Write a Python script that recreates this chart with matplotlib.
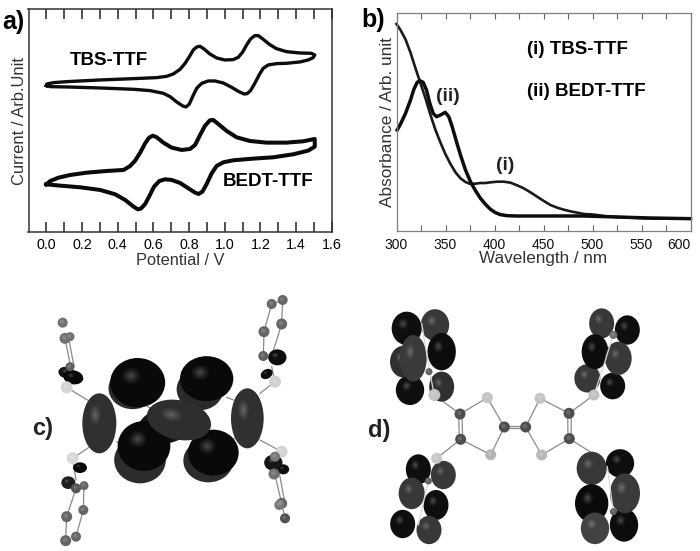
"""CV, UV-vis and orbital panels"""
import matplotlib
matplotlib.use("Agg")
import matplotlib.pyplot as plt
from matplotlib.patches import Ellipse

plt.rcParams["font.family"] = ["Liberation Sans", "DejaVu Sans"]

# a) cyclic voltammograms, current in arbitrary units
tbs_v = [0.0, 0.004, 0.041, 0.116, 0.302, 0.489, 0.619, 0.675, 0.712, 0.75, 0.778, 0.802, 0.824, 0.843, 0.862, 0.884, 0.917, 0.955, 1.001, 1.048,
         1.076, 1.1, 1.123, 1.145, 1.169, 1.188, 1.216, 1.253, 1.29, 1.346, 1.421, 1.486, 1.505, 1.496, 1.468, 1.421, 1.346, 1.29, 1.244, 1.216,
         1.193, 1.169, 1.145, 1.126, 1.108, 1.076, 1.039, 0.992, 0.945, 0.908, 0.871, 0.843, 0.82, 0.802, 0.783, 0.765, 0.731, 0.694, 0.656, 0.582,
         0.489, 0.302, 0.116, 0.022, 0.0]
tbs_i = [440, 445, 449, 452, 457, 461, 464, 468, 475, 489, 507, 527, 547, 556, 558, 550, 535, 523, 517, 518,
         525, 540, 562, 580, 590, 590, 579, 563, 551, 542, 538, 537, 532, 524, 517, 511, 507, 506, 502, 492,
         472, 447, 425, 416, 415, 423, 435, 448, 454, 454, 447, 432, 407, 385, 376, 379, 391, 407, 417, 425,
         429, 433, 436, 437, 440]
bedt_v = [0.0, 0.022, 0.069, 0.134, 0.228, 0.339, 0.433, 0.47, 0.498, 0.526, 0.554, 0.576, 0.597, 0.619, 0.656, 0.703, 0.759, 0.806, 0.834, 0.862,
          0.889, 0.917, 0.936, 0.964, 1.011, 1.067, 1.141, 1.235, 1.346, 1.44, 1.505, 1.505, 1.468, 1.384, 1.272, 1.16, 1.048, 0.992, 0.955, 0.927,
          0.899, 0.875, 0.854, 0.834, 0.796, 0.75, 0.703, 0.666, 0.634, 0.604, 0.578, 0.554, 0.53, 0.513, 0.489, 0.442, 0.386, 0.302, 0.19, 0.078, 0.0]
bedt_i = [144, 154, 164, 172, 179, 184, 187, 199, 215, 239, 267, 284, 290, 285, 269, 254, 247, 250, 262, 292,
          319, 336, 337, 325, 304, 285, 274, 269, 269, 273, 280, 257, 245, 234, 225, 221, 216, 210, 199, 177,
          145, 122, 115, 119, 132, 148, 157, 159, 154, 137, 109, 85, 71, 69, 77, 97, 114, 127, 135, 140, 144]

# b) absorption spectra, absorbance in arbitrary units
tbs_wl = [300, 304.1, 309.2, 314.3, 319.4, 324.5, 329.6, 334.7, 339.8, 344.9, 350, 355.1, 360.2, 365.3, 370.4, 375.5, 380.6, 385.7, 390.8, 395.9,
          402.7, 409.5, 416.3, 423.1, 429.9, 436.7, 443.5, 450.3, 457.1, 463.9, 470.7, 477.6, 484.4, 491.2, 498, 504.8, 511.6, 525.2, 545.6, 566, 600]
tbs_abs = [621, 603, 575, 535, 488, 443, 398, 348, 303, 265, 230, 201, 176, 158, 147, 141, 142, 144, 144, 146,
           148, 148, 145, 137, 128, 116, 103, 90, 78, 70, 64, 59, 55, 51, 50, 48, 45, 42, 39, 37, 37]
bedt_wl = [300.7, 304.1, 309.2, 314.3, 317.7, 321.1, 323.8, 327.2, 330.6, 334, 337.4, 340.8, 344.9, 349.7, 353.4, 356.8, 361.2, 365.3, 370.4, 375.5,
           380.6, 385.7, 390.8, 395.9, 401, 406.1, 412.9, 423.1, 443.5, 470.7, 491.2, 525.2, 559.2, 600]
bedt_abs = [303, 321, 353, 393, 425, 446, 451, 446, 423, 383, 353, 343, 348, 356, 343, 313, 268, 228, 183, 148,
            121, 98, 80, 65, 55, 49, 46, 45, 45, 45, 45, 42, 39, 37]

xticks_a = [0.0, 0.2, 0.4, 0.6, 0.8, 1.0, 1.2, 1.4, 1.6]
xminor_a = [0.1, 0.3, 0.5, 0.7, 0.9, 1.1, 1.3, 1.5]
xticks_b = [300, 350, 400, 450, 500, 550, 600]
xminor_b = [325, 375, 425, 475, 525, 575]

# orbital lobes: x, y, width, height, angle, grey
c_lobes = [
    (505, 432, 195, 112, -18, "#141414"), (398, 325, 145, 125, 0, "#2c2c2c"), (413, 308, 165, 148, 0, "#090909"),
    (600, 328, 140, 125, 0, "#2a2a2a"), (620, 296, 160, 135, 0, "#090909"), (420, 540, 155, 140, 0, "#2c2c2c"),
    (432, 498, 158, 150, 0, "#090909"), (625, 542, 150, 130, 0, "#2c2c2c"), (640, 518, 152, 138, 0, "#090909"),
    (537, 420, 195, 118, 12, "#2e2e2e"), (298, 430, 102, 180, 0, "#303030"), (742, 415, 98, 180, 0, "#303030"),
    (200, 278, 50, 35, 10, "#151515"), (220, 292, 60, 42, 10, "#090909"), (240, 563, 42, 32, 0, "#090909"),
    (205, 608, 42, 38, 0, "#1e1e1e"), (832, 232, 55, 48, 0, "#0e0e0e"), (800, 282, 38, 28, -30, "#0e0e0e"),
    (820, 548, 55, 48, 0, "#161616"), (850, 568, 35, 30, 0, "#0e0e0e"),
]
d_lobes = [
    (170, 145, 90, 100, 0, "#0e0e0e"), (255, 135, 85, 95, 0, "#383838"), (275, 215, 85, 112, 0, "#0c0c0c"),
    (180, 330, 85, 90, 0, "#0e0e0e"), (275, 320, 75, 90, 0, "#303030"), (160, 245, 80, 95, 0, "#303030"), (190, 235, 80, 140, 0, "#3a3a3a"),
    (755, 130, 75, 90, 0, "#383838"), (832, 150, 75, 88, 0, "#0e0e0e"), (712, 295, 78, 85, 0, "#383838"), (788, 318, 75, 80, 0, "#0e0e0e"),
    (735, 215, 80, 105, 0, "#0c0c0c"), (805, 235, 80, 100, 0, "#383838"),
    (205, 568, 75, 90, 0, "#0e0e0e"), (280, 585, 75, 85, 0, "#383838"), (258, 675, 75, 90, 0, "#0e0e0e"), (158, 732, 75, 85, 0, "#0e0e0e"),
    (185, 640, 78, 95, 0, "#383838"), (237, 750, 75, 85, 0, "#383838"),
    (810, 550, 85, 85, 0, "#0e0e0e"), (725, 565, 90, 100, 0, "#383838"), (822, 735, 85, 100, 0, "#0c0c0c"), (725, 670, 100, 115, 0, "#0a0a0a"),
    (825, 640, 90, 120, 0, "#3a3a3a"), (735, 745, 85, 95, 0, "#424242"),
]

# atoms: x, y, size, grey
c_atoms = [
    (188, 128, 20, "#707070"), (195, 175, 22, "#707070"), (210, 170, 18, "#707070"), (210, 260, 18, "#606060"), (200, 322, 24, "#d4d4d4"),
    (218, 535, 24, "#d8d8d8"), (228, 625, 20, "#555555"), (252, 617, 18, "#666666"), (250, 690, 20, "#666666"), (200, 710, 22, "#666666"),
    (197, 782, 22, "#666666"), (228, 770, 20, "#666666"), (815, 72, 20, "#666666"), (848, 60, 20, "#666666"), (845, 132, 22, "#666666"),
    (792, 155, 22, "#666666"), (790, 228, 20, "#606060"), (825, 305, 24, "#d0d0d0"), (845, 515, 24, "#d4d4d4"), (825, 530, 20, "#777777"),
    (822, 582, 22, "#707070"), (845, 670, 22, "#666666"), (838, 675, 20, "#777777"), (855, 715, 20, "#505050"),
]
d_atoms = [
    (253, 345, 24, "#c4c4c4"), (412, 353, 22, "#c4c4c4"), (422, 524, 22, "#b4b4b4"), (260, 535, 22, "#c8c8c8"), (570, 355, 22, "#c4c4c4"),
    (732, 345, 22, "#c0c0c0"), (575, 525, 22, "#b8b8b8"), (330, 402, 22, "#4e4e4e"), (332, 478, 22, "#4e4e4e"), (463, 441, 22, "#4e4e4e"),
    (527, 441, 22, "#4e4e4e"), (657, 400, 22, "#4e4e4e"), (658, 476, 22, "#4e4e4e"), (237, 275, 14, "#606060"), (235, 603, 14, "#606060"),
    (790, 165, 16, "#707070"), (790, 695, 14, "#606060"),
]

# bonds: x0, y0, x1, y1
c_bonds = [
    (200, 322, 262, 360), (218, 535, 270, 500), (825, 305, 780, 340), (845, 515, 780, 480), (345, 365, 362, 355), (350, 485, 362, 492),
    (680, 352, 700, 360), (700, 478, 715, 470), (440, 378, 452, 385), (590, 372, 600, 366), (590, 462, 600, 468),
    (195, 175, 212, 260), (205, 170, 222, 258), (212, 300, 205, 322), (228, 625, 200, 710), (252, 617, 250, 690), (200, 710, 197, 782),
    (250, 690, 228, 770), (815, 72, 792, 155), (848, 60, 845, 132), (792, 155, 790, 228), (845, 132, 820, 212), (815, 72, 848, 60),
    (825, 305, 815, 260), (822, 530, 822, 582), (825, 585, 845, 670), (838, 580, 855, 670), (845, 670, 855, 715), (218, 535, 228, 600),
]
d_bonds = [
    (253, 345, 330, 402), (330, 402, 412, 353), (412, 353, 463, 441), (463, 441, 422, 524), (422, 524, 332, 478), (332, 478, 260, 535),
    (326, 402, 328, 478), (336, 402, 338, 478), (463, 437, 527, 437), (463, 445, 527, 445), (527, 441, 570, 355), (570, 355, 657, 400),
    (657, 400, 732, 345), (653, 400, 654, 476), (663, 400, 664, 476), (658, 476, 575, 525), (575, 525, 527, 441), (658, 476, 720, 515),
]
d_white = [
    (215, 130, 240, 280), (240, 280, 253, 345), (790, 165, 760, 260), (760, 260, 732, 345), (235, 603, 205, 735), (772, 560, 790, 695),
]

fig = plt.figure(figsize=(7.0, 5.51), dpi=100)


def px_axes(x0, y0, x1, y1):
    # axes placed by pixel box, y measured from the top
    return fig.add_axes([x0 / 700, 1 - y1 / 551, (x1 - x0) / 700, (y1 - y0) / 551])


def draw_orbitals(ax, lobes, atoms, bonds):
    ax.set_xlim(0, 1050)
    ax.set_ylim(813, 0)
    ax.axis("off")
    for x0, y0, x1, y1 in bonds:
        ax.plot([x0, x1], [y0, y1], color="#8a8a8a", lw=0.9, zorder=1)
    for i, (x, y, w, h, ang, col) in enumerate(lobes):
        z = 2 + i * 0.01
        ax.add_patch(Ellipse((x, y), w, h, angle=ang, fc=col, ec="none", zorder=z))
        # soft highlight on each lobe
        for f in [0.32, 0.24, 0.17, 0.11, 0.06]:
            ax.add_patch(Ellipse((x - w * 0.12, y - h * 0.14), w * f, h * f, angle=ang, fc="white", ec="none",
                                 alpha=0.055, zorder=z + 0.001))
    for x, y, s, col in atoms:
        ax.add_patch(Ellipse((x, y), s * 1.5, s * 1.5, fc=col, ec="none", zorder=4))
        ax.add_patch(Ellipse((x - s * 0.1, y - s * 0.12), s * 0.6, s * 0.6, fc="white", ec="none", alpha=0.15, zorder=4.1))


# panel a
ax_a = px_axes(28.5, 9.3, 331.7, 232.3)
ax_a.plot(tbs_v, tbs_i, color="#0d0d0d", lw=2.4, solid_joinstyle="round")
ax_a.plot(bedt_v, bedt_i, color="#0a0a0a", lw=2.9, solid_joinstyle="round")
ax_a.set_xlim(-0.1, 1.6)
ax_a.set_ylim(0, 669)
ax_a.set_xticks(xticks_a)
ax_a.set_xticks(xminor_a, minor=True)
ax_a.set_yticks([])
ax_a.tick_params(axis="x", which="both", direction="in", length=7.5, width=1.1, top=True, color="#222222", labelsize=10.3, pad=4)
ax_a.set_xlabel("Potential / V", fontsize=11.8, labelpad=1, color="#333333")
ax_a.set_ylabel("Current / Arb.Unit", fontsize=11.9, labelpad=1, color="#333333")
for sp in ax_a.spines.values():
    sp.set_linewidth(1.1)
    sp.set_color("#333333")
ax_a.text(0.136, 0.772, "TBS-TTF", transform=ax_a.transAxes, fontsize=13.5, fontweight="bold", va="center")
ax_a.text(0.640, 0.229, "BEDT-TTF", transform=ax_a.transAxes, fontsize=13.5, fontweight="bold", va="center")

# panel b
ax_b = px_axes(396.5, 12.7, 690.5, 231)
ax_b.plot(tbs_wl, tbs_abs, color="#1a1a1a", lw=1.9, solid_joinstyle="round", clip_on=False)
ax_b.plot(bedt_wl, bedt_abs, color="#0d0d0d", lw=2.5, solid_joinstyle="round", clip_on=False)
ax_b.set_xlim(300, 600)
ax_b.set_ylim(0, 655)
ax_b.set_xticks(xticks_b)
ax_b.set_xticks(xminor_b, minor=True)
ax_b.set_yticks([])
ax_b.tick_params(axis="x", which="both", direction="in", length=4.5, width=0.8, top=True, color="#666666",
                 labelsize=10, pad=5, labelcolor="#111111")
# the last label sits left of its tick in the original
ax_b.get_xticklabels()[-1].set_ha("right")
ax_b.set_xlabel("Wavelength / nm", fontsize=12.3, labelpad=-1, color="#333333")
ax_b.set_ylabel("Absorbance / Arb. unit", fontsize=12.4, labelpad=1, color="#333333")
for sp in ax_b.spines.values():
    sp.set_linewidth(0.9)
    sp.set_color("#808080")
ax_b.text(0.445, 0.83, "(i) TBS-TTF", transform=ax_b.transAxes, fontsize=13.5, fontweight="bold", va="center")
ax_b.text(0.445, 0.64, "(ii) BEDT-TTF", transform=ax_b.transAxes, fontsize=13.5, fontweight="bold", va="center")
ax_b.text(0.136, 0.614, "(ii)", transform=ax_b.transAxes, fontsize=14, fontweight="bold", va="center", color="#222222")
ax_b.text(0.337, 0.298, "(i)", transform=ax_b.transAxes, fontsize=14, fontweight="bold", va="center", color="#222222")

# panels c and d, coordinates are in a 3x grid of each quadrant
ax_c = px_axes(0, 280, 350, 551)
draw_orbitals(ax_c, c_lobes, c_atoms, c_bonds)
ax_d = px_axes(350, 280, 700, 551)
draw_orbitals(ax_d, d_lobes, d_atoms, d_bonds)
for x0, y0, x1, y1 in d_white:
    ax_d.plot([x0, x1], [y0, y1], color="#d8d8d8", lw=0.9, zorder=3.5)

fig.text(2 / 700, 1 - 22 / 551, "a)", fontsize=18, fontweight="bold", va="center")
fig.text(361 / 700, 1 - 20 / 551, "b)", fontsize=18, fontweight="bold", va="center")
fig.text(32 / 700, 1 - 428 / 551, "c)", fontsize=17, fontweight="bold", va="center", color="#222222")
fig.text(368 / 700, 1 - 430 / 551, "d)", fontsize=17, fontweight="bold", va="center", color="#222222")

fig.savefig("out.png", dpi=100)
